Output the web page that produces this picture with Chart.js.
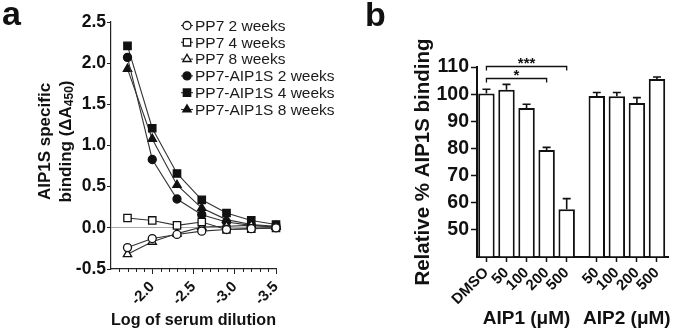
<!DOCTYPE html>
<html>
<head>
<meta charset="utf-8">
<script src="https://cdn.jsdelivr.net/npm/chart.js@4.4.1/dist/chart.umd.min.js"></script>
<style>
  html, body { margin: 0; padding: 0; background: #fff; }
  #wrap { position: relative; width: 675px; height: 332px; overflow: hidden; font-family: "Liberation Sans", Arial, sans-serif; }
  canvas { position: absolute; top: 0; }
  .panel { position: absolute; font-weight: bold; font-size: 34px; line-height: 1; color: #111; }
</style>
</head>
<body>
<div id="wrap">
  <canvas id="chartA" width="340" height="332" style="left:0"></canvas>
  <canvas id="chartB" width="335" height="332" style="left:340px"></canvas>
  <div class="panel" style="left:2px;top:-4px">a</div>
  <div class="panel" style="left:365px;top:-3px">b</div>
</div>
<script>
// --- panel a: binding vs serum dilution ---
const logDilution = [-1.7, -2.0, -2.3, -2.6, -2.9, -3.2, -3.5];
const pp7Week2 = [-0.24, -0.13, -0.08, -0.04, -0.02, -0.01, 0.0];
const pp7Week4 = [0.12, 0.09, 0.03, 0.07, -0.02, -0.01, 0.0];
const pp7Week8 = [-0.32, -0.17, -0.07, 0.01, 0.02, 0.03, 0.01];
const aipWeek2 = [2.07, 0.83, 0.35, 0.16, 0.07, 0.03, 0.01];
const aipWeek4 = [2.21, 1.21, 0.66, 0.34, 0.18, 0.09, 0.04];
const aipWeek8 = [1.93, 1.08, 0.52, 0.24, 0.10, 0.04, 0.02];
const seriesNames = ['PP7 2 weeks', 'PP7 4 weeks', 'PP7 8 weeks',
                     'PP7-AIP1S 2 weeks', 'PP7-AIP1S 4 weeks', 'PP7-AIP1S 8 weeks'];
const dilutionTicks = [-2.0, -2.5, -3.0, -3.5];

// --- panel b: competition with AIP1 / AIP2 ---
const aip1Doses = ['DMSO', '50', '100', '200', '500'];
const aip1Binding = [100.2, 101.6, 94.9, 79.4, 57.6];
const aip1Sem = [1.6, 2.0, 1.4, 1.0, 3.9];
const aip2Doses = ['50', '100', '200', '500'];
const aip2Binding = [99.3, 99.2, 96.7, 105.6];
const aip2Sem = [1.3, 1.4, 2.0, 0.7];
const groupNames = ['AIP1 (μM)', 'AIP2 (μM)'];
// significance brackets: from bar, to bar, label, height
const sigFrom = [0, 0];
const sigTo = [3, 4];
const sigText = ['*', '***'];
const sigLevel = [105.9, 110.4];

const FONT = '"Liberation Sans", Arial, sans-serif';
const INK = '#111';

// ---------- chart a ----------
const seriesA = [pp7Week2, pp7Week4, pp7Week8, aipWeek2, aipWeek4, aipWeek8];
const shapes = ['circle', 'rect', 'triangle', 'circle', 'rect', 'triangle'];
const radii = { circle: 4, rect: 5.2, triangle: 4.8 };

const datasetsA = seriesA.map((vals, i) => {
  const filled = i >= 3;
  return {
    label: seriesNames[i],
    data: vals.map((v, j) => ({ x: logDilution[j], y: v })),
    borderColor: '#333',
    borderWidth: 1.1,
    pointStyle: shapes[i],
    pointRadius: radii[shapes[i]],
    pointBackgroundColor: filled ? INK : '#fff',
    pointBorderColor: INK,
    pointBorderWidth: 1.3,
    tension: 0,
    clip: false
  };
});

function drawMarker(ctx, style, r, x, y, filled) {
  ctx.save();
  ctx.fillStyle = filled ? INK : '#fff';
  ctx.strokeStyle = INK;
  ctx.lineWidth = 1.3;
  if (Chart.helpers && Chart.helpers.drawPoint) {
    Chart.helpers.drawPoint(ctx, { pointStyle: style, radius: r, borderWidth: 1.3, rotation: 0 }, x, y);
  } else {
    ctx.beginPath();
    ctx.arc(x, y, r, 0, Math.PI * 2);
    ctx.fill(); ctx.stroke();
  }
  ctx.restore();
}

const extrasA = {
  id: 'extrasA',
  afterDraw(chart) {
    const { ctx, chartArea, scales: { x } } = chart;
    ctx.save();
    // minor ticks on the dilution axis
    ctx.strokeStyle = '#222';
    ctx.lineWidth = 1;
    for (let k = 15; k <= 35; k++) {
      if (k % 5 === 0) continue;
      const px = Math.round(x.getPixelForValue(-k / 10)) + 0.5;
      ctx.beginPath();
      ctx.moveTo(px, chartArea.bottom);
      ctx.lineTo(px, chartArea.bottom + 3);
      ctx.stroke();
    }

    // y title with subscript
    const cy = (chartArea.top + chartArea.bottom) / 2 - 4;
    ctx.translate(45, cy);
    ctx.rotate(-Math.PI / 2);
    ctx.fillStyle = INK;
    ctx.textBaseline = 'middle';
    ctx.textAlign = 'center';
    ctx.font = 'bold 17px ' + FONT;
    ctx.fillText('AIP1S specific', 0, 0);
    const partA = 'binding (ΔA', partSub = '450', partB = ')';
    const wa = ctx.measureText(partA).width;
    const wb = ctx.measureText(partB).width;
    ctx.font = 'bold 12px ' + FONT;
    const ws = ctx.measureText(partSub).width;
    let sx = -(wa + ws + wb) / 2;
    ctx.textAlign = 'left';
    ctx.font = 'bold 17px ' + FONT;
    ctx.fillText(partA, sx, 21);
    ctx.font = 'bold 12px ' + FONT;
    ctx.fillText(partSub, sx + wa, 25);
    ctx.font = 'bold 17px ' + FONT;
    ctx.fillText(partB, sx + wa + ws, 21);
    ctx.restore();

    // legend
    ctx.save();
    ctx.font = '15.5px ' + FONT;
    ctx.fillStyle = '#1a1a1a';
    ctx.textBaseline = 'middle';
    seriesNames.forEach((name, i) => {
      const ly = 25.5 + i * 16.8;
      ctx.strokeStyle = '#333';
      ctx.lineWidth = 1.1;
      ctx.beginPath();
      ctx.moveTo(181, ly);
      ctx.lineTo(193, ly);
      ctx.stroke();
      drawMarker(ctx, shapes[i], radii[shapes[i]], 187, ly, i >= 3);
      ctx.fillStyle = '#1a1a1a';
      ctx.fillText(name, 195, ly + 1);
    });
    ctx.restore();
  }
};

new Chart(document.getElementById('chartA'), {
  type: 'line',
  data: { datasets: datasetsA },
  options: {
    responsive: false,
    animation: false,
    layout: { padding: { top: 22, right: 64, left: 0, bottom: 0 } },
    plugins: { legend: { display: false }, tooltip: { enabled: false } },
    scales: {
      x: {
        type: 'linear',
        reverse: true,
        min: -3.5,
        max: -1.5,
        afterBuildTicks: s => { s.ticks = dilutionTicks.map(v => ({ value: v })); },
        afterFit: s => { s.height = 63; },
        ticks: {
          callback: v => v.toFixed(1),
          font: { family: FONT, size: 15, weight: 'bold' },
          color: INK,
          minRotation: 45,
          maxRotation: 45,
          padding: 4,
          autoSkip: false
        },
        grid: { drawOnChartArea: false, tickLength: 5, tickColor: '#222', tickWidth: 1 },
        border: { color: '#222', width: 1.2 },
        title: {
          display: true,
          text: 'Log of serum dilution',
          font: { family: FONT, size: 17, weight: 'bold' },
          color: INK,
          padding: { top: 0, bottom: 1 }
        }
      },
      y: {
        min: -0.5,
        max: 2.5,
        afterFit: s => { s.width = 111; },
        ticks: {
          stepSize: 0.5,
          callback: v => v.toFixed(1),
          font: { family: FONT, size: 17.5, weight: 'bold' },
          color: INK,
          padding: 1
        },
        grid: {
          color: c => (c.tick && c.tick.value === 0 ? '#aaa' : 'rgba(0,0,0,0)'),
          lineWidth: 1,
          tickLength: 4,
          tickColor: '#222',
          tickWidth: 1
        },
        border: { color: '#222', width: 1.2 }
      }
    }
  },
  plugins: [extrasA]
});

// ---------- chart b ----------
const GROUP_GAP = 0.5;
const barLabels = aip1Doses.concat(aip2Doses);
const barValues = aip1Binding.concat(aip2Binding);
const barSem = aip1Sem.concat(aip2Sem);
const barPos = aip1Doses.map((d, i) => i)
  .concat(aip2Doses.map((d, j) => aip1Doses.length + GROUP_GAP + j));
const Y_MIN_B = 40;

const extrasB = {
  id: 'extrasB',
  afterDatasetsDraw(chart) {
    const { ctx, scales: { x, y } } = chart;
    ctx.save();
    ctx.strokeStyle = INK;
    ctx.lineWidth = 1.6;
    // error bars (upper SEM)
    barPos.forEach((p, i) => {
      const px = x.getPixelForValue(p);
      const top = y.getPixelForValue(barValues[i]);
      const end = y.getPixelForValue(barValues[i] + barSem[i]);
      ctx.beginPath();
      ctx.moveTo(px, top);
      ctx.lineTo(px, end);
      ctx.moveTo(px - 4, end);
      ctx.lineTo(px + 4, end);
      ctx.stroke();
    });
    // significance brackets
    ctx.lineWidth = 1.3;
    ctx.fillStyle = INK;
    ctx.textAlign = 'center';
    ctx.textBaseline = 'alphabetic';
    ctx.font = 'bold 15px ' + FONT;
    sigFrom.forEach((f, k) => {
      const x1 = x.getPixelForValue(barPos[f]);
      const x2 = x.getPixelForValue(barPos[sigTo[k]]);
      const yy = Math.round(y.getPixelForValue(sigLevel[k])) + 0.5;
      ctx.beginPath();
      ctx.moveTo(x1, yy + 4);
      ctx.lineTo(x1, yy);
      ctx.lineTo(x2, yy);
      ctx.lineTo(x2, yy + 4);
      ctx.stroke();
      ctx.fillText(sigText[k], (x1 + x2) / 2, yy + 1);
    });
    // group labels under the dose ticks
    ctx.font = 'bold 19px ' + FONT;
    ctx.textBaseline = 'middle';
    const groups = [barPos.slice(0, aip1Doses.length), barPos.slice(aip1Doses.length)];
    groups.forEach((g, k) => {
      const cx = (x.getPixelForValue(g[0]) + x.getPixelForValue(g[g.length - 1])) / 2;
      ctx.fillText(groupNames[k], cx, 319);
    });
    ctx.restore();
  }
};

new Chart(document.getElementById('chartB'), {
  type: 'bar',
  data: {
    datasets: [{
      data: barPos.map((p, i) => ({ x: p, y: barValues[i] })),
      base: Y_MIN_B,
      backgroundColor: '#fff',
      borderColor: INK,
      borderWidth: 2,
      barPercentage: 1,
      categoryPercentage: 0.82
    }]
  },
  options: {
    responsive: false,
    animation: false,
    layout: { padding: { top: 67, right: 7, left: 0, bottom: 0 } },
    plugins: { legend: { display: false }, tooltip: { enabled: false } },
    scales: {
      x: {
        type: 'linear',
        min: -0.47,
        max: 9.05,
        offset: false,
        afterBuildTicks: s => { s.ticks = barPos.map(v => ({ value: v })); },
        afterFit: s => { s.height = 75; },
        ticks: {
          callback: (v, i) => barLabels[i],
          font: { family: FONT, size: 15, weight: 'bold' },
          color: INK,
          minRotation: 45,
          maxRotation: 45,
          padding: 2,
          autoSkip: false
        },
        grid: { offset: false, drawOnChartArea: false, tickLength: 5, tickColor: INK, tickWidth: 1.5 },
        border: { color: INK, width: 2 }
      },
      y: {
        min: Y_MIN_B,
        max: 110,
        beginAtZero: false,
        afterFit: s => { s.width = 137; },
        ticks: {
          stepSize: 10,
          callback: v => (v === Y_MIN_B ? '' : v),
          font: { family: FONT, size: 19.5, weight: 'bold' },
          color: INK,
          padding: 2
        },
        grid: {
          drawOnChartArea: false,
          tickLength: 6,
          tickColor: c => (c.tick && c.tick.value === Y_MIN_B ? 'rgba(0,0,0,0)' : INK),
          tickWidth: 1.5
        },
        border: { color: INK, width: 2 },
        title: {
          display: true,
          text: 'Relative % AIP1S binding',
          font: { family: FONT, size: 20.5, weight: 'bold' },
          color: INK,
          padding: { top: 71, bottom: 0 }
        }
      }
    }
  },
  plugins: [extrasB]
});
</script>
</body>
</html>
